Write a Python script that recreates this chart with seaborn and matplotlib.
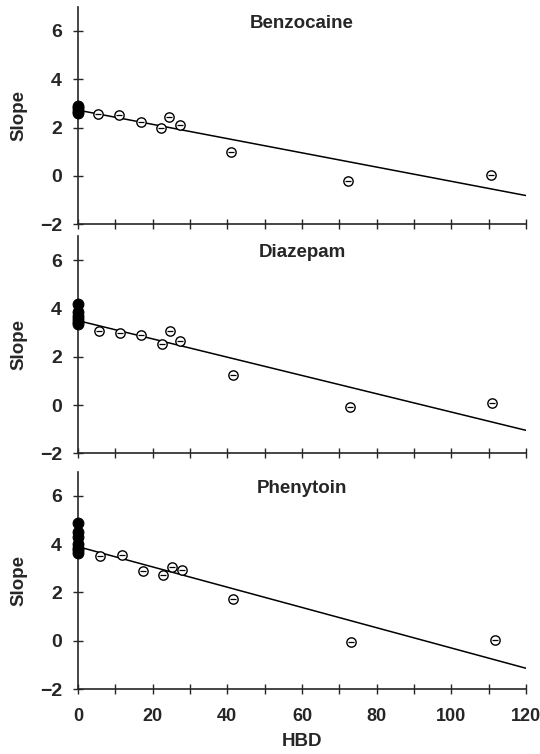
import numpy as np
import pandas as pd
import matplotlib
matplotlib.use("Agg")
import matplotlib.pyplot as plt
import seaborn as sns

sns.set_theme(style="ticks")
plt.rcParams['font.family'] = ['Liberation Sans', 'DejaVu Sans']
plt.rcParams['font.weight'] = 'bold'

drugs = ["Benzocaine", "Diazepam", "Phenytoin"]

# solvent points with HBD = 0 (filled)
benz_x0 = [0, 0, 0, 0]
benz_y0 = [2.6, 2.7, 2.8, 2.9]
diaz_x0 = [0, 0, 0, 0, 0, 0]
diaz_y0 = [4.2, 3.85, 3.7, 3.55, 3.45, 3.35]
phen_x0 = [0, 0, 0, 0, 0, 0, 0]
phen_y0 = [4.9, 4.5, 4.3, 4.0, 3.85, 3.75, 3.65]

# hydrogen-bond donor solvents (open)
benz_x = [5.3, 11.1, 16.8, 22.3, 24.5, 27.2, 40.9, 72.3, 110.7]
benz_y = [2.54, 2.53, 2.24, 1.98, 2.45, 2.12, 0.99, -0.21, 0.05]
diaz_x = [5.5, 11.2, 17.0, 22.6, 24.7, 27.4, 41.4, 72.9, 111.0]
diaz_y = [3.08, 2.97, 2.91, 2.51, 3.08, 2.65, 1.23, -0.10, 0.07]
phen_x = [5.9, 11.9, 17.5, 22.9, 25.1, 27.9, 41.6, 73.1, 111.6]
phen_y = [3.53, 3.55, 2.88, 2.74, 3.07, 2.95, 1.73, -0.07, 0.05]

# regression lines
fit_intercept = [2.72, 3.50, 3.90]
fit_slope = [-0.0295, -0.0379, -0.0420]

x_ticks = list(range(0, 121, 10))
x_labels = ["0", "", "20", "", "40", "", "60", "", "80", "", "100", "", "120"]
y_ticks = [-2, 0, 2, 4, 6]

fig = plt.figure(figsize=(5.4, 7.54), dpi=100)
bottoms = [0.7029, 0.3988, 0.0862]
height = 0.2880
left, width = 0.1444, 0.8296

filled = [(benz_x0, benz_y0), (diaz_x0, diaz_y0), (phen_x0, phen_y0)]
opened = [(benz_x, benz_y), (diaz_x, diaz_y), (phen_x, phen_y)]

for i, name in enumerate(drugs):
    ax = fig.add_axes([left, bottoms[i], width, height])
    fx = np.array([0, 120])
    line_df = pd.DataFrame({"x": fx, "y": fit_intercept[i] + fit_slope[i] * fx})
    sns.lineplot(data=line_df, x="x", y="y", ax=ax, color="black", lw=1.1)
    d0 = pd.DataFrame({"x": filled[i][0], "y": filled[i][1]})
    sns.scatterplot(data=d0, x="x", y="y", ax=ax, s=60, color="black",
                    edgecolor="black", linewidth=0.8, zorder=4, clip_on=False)
    d1 = pd.DataFrame({"x": opened[i][0], "y": opened[i][1]})
    sns.scatterplot(data=d1, x="x", y="y", ax=ax, s=45, facecolor="white",
                    edgecolor="black", linewidth=1.0, zorder=4)
    sns.scatterplot(data=d1, x="x", y="y", ax=ax, s=16, marker="_",
                    color="black", linewidth=0.9, zorder=5)
    ax.set_xlim(0, 120)
    ax.set_ylim(-2, 7)
    ax.set_xticks(x_ticks)
    ax.set_yticks(y_ticks)
    ax.set_yticklabels(["\u22122", "0", "2", "4", "6"])
    if i == 2:
        ax.set_xticklabels(x_labels)
        ax.set_xlabel("HBD", fontsize=13.5, fontweight="bold", labelpad=6)
    else:
        ax.set_xticklabels([])
        ax.set_xlabel("")
    ax.set_ylabel("Slope", fontsize=13.5, fontweight="bold", labelpad=9)
    ax.tick_params(direction="inout", length=7, width=1.0, labelsize=14)
    ax.tick_params(axis="x", pad=10, labelsize=13)
    ax.tick_params(axis="y", pad=8)
    for lab in ax.get_xticklabels() + ax.get_yticklabels():
        lab.set_fontweight("bold")
    sns.despine(ax=ax)
    for sp in ["left", "bottom"]:
        ax.spines[sp].set_linewidth(1.2)
    ax.text(0.5, 0.925, name, transform=ax.transAxes, ha="center", va="center",
            fontsize=13.5, fontweight="bold")

fig.savefig("out.png", dpi=100)
